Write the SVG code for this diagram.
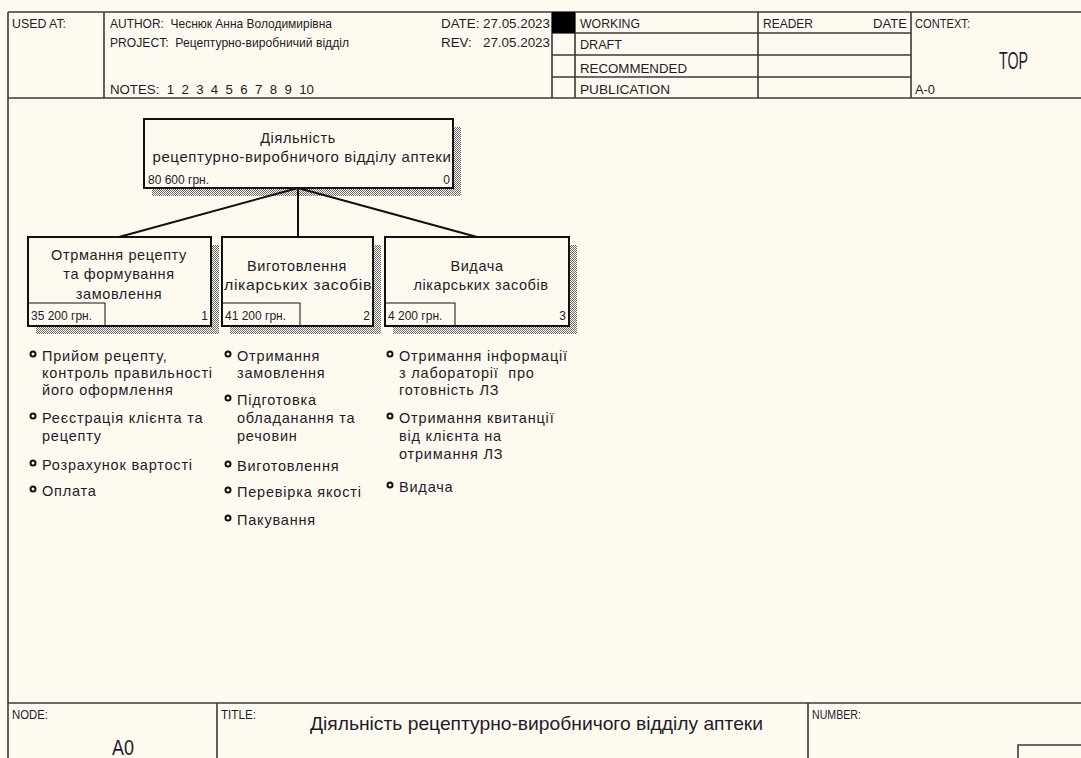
<svg xmlns="http://www.w3.org/2000/svg" width="1081" height="758" viewBox="0 0 1081 758">
<defs>
<pattern id="hatch" width="2" height="2" patternUnits="userSpaceOnUse">
<rect width="2" height="2" fill="#fffaf0"/>
<rect width="1" height="1" fill="#6e6e6e"/>
<rect x="1" y="1" width="1" height="1" fill="#6e6e6e"/>
</pattern>
<style>
.frame{fill:none;stroke:#3a3a3a;stroke-width:1.6}
.hdr{font-family:"Liberation Sans",Arial,sans-serif;font-size:13px;fill:#1c1c2a;white-space:pre}
.big{font-family:"Liberation Sans",Arial,sans-serif;font-size:22px;fill:#1c1c2a}
.box{fill:#fffaf0;stroke:#111;stroke-width:2}
.cost{fill:none;stroke:#111;stroke-width:1}
.nt{font-family:"Liberation Sans",Arial,sans-serif;font-size:14.5px;letter-spacing:0.6px;fill:#1c1c2a;text-anchor:middle}
.sm{font-family:"Liberation Sans",Arial,sans-serif;font-size:12px;fill:#1c1c2a}
.bl{font-family:"Liberation Sans",Arial,sans-serif;font-size:14.5px;letter-spacing:0.8px;fill:#1c1c2a;white-space:pre}
.dot{fill:none;stroke:#111;stroke-width:2}
.conn{stroke:#111;stroke-width:2;fill:none}
</style>
</defs>
<rect width="1081" height="758" fill="#fffaf0"/>
<g id="header">
<line class="frame" x1="8" y1="12" x2="1081" y2="12"/>
<line class="frame" x1="8" y1="98" x2="1081" y2="98"/>
<line class="frame" x1="8" y1="12" x2="8" y2="758"/>
<line class="frame" x1="104" y1="12" x2="104" y2="98"/>
<line class="frame" x1="552" y1="12" x2="552" y2="98"/>
<line class="frame" x1="575" y1="12" x2="575" y2="98"/>
<line class="frame" x1="758" y1="12" x2="758" y2="98"/>
<line class="frame" x1="911" y1="12" x2="911" y2="98"/>
<line class="frame" x1="552" y1="33" x2="911" y2="33"/>
<line class="frame" x1="552" y1="55" x2="911" y2="55"/>
<line class="frame" x1="552" y1="77" x2="911" y2="77"/>
<rect x="552" y="12" width="23" height="21" fill="#000"/>
<text class="hdr" x="12" y="28" textLength="54" lengthAdjust="spacingAndGlyphs">USED AT:</text>
<text class="hdr" x="110" y="28" textLength="222" lengthAdjust="spacingAndGlyphs">AUTHOR:  Чеснюк Анна Володимирівна</text>
<text class="hdr" x="110" y="47" textLength="239" lengthAdjust="spacingAndGlyphs">PROJECT:  Рецептурно-виробничий відділ</text>
<text class="hdr" x="110" y="94" textLength="204" lengthAdjust="spacingAndGlyphs">NOTES:  1  2  3  4  5  6  7  8  9  10</text>
<text class="hdr" x="441" y="28" textLength="109" lengthAdjust="spacingAndGlyphs">DATE: 27.05.2023</text>
<text class="hdr" x="441" y="47" textLength="109" lengthAdjust="spacingAndGlyphs">REV:   27.05.2023</text>
<text class="hdr" x="580" y="28" textLength="60" lengthAdjust="spacingAndGlyphs">WORKING</text>
<text class="hdr" x="580" y="49" textLength="42" lengthAdjust="spacingAndGlyphs">DRAFT</text>
<text class="hdr" x="580" y="73" textLength="107" lengthAdjust="spacingAndGlyphs">RECOMMENDED</text>
<text class="hdr" x="580" y="94" textLength="90" lengthAdjust="spacingAndGlyphs">PUBLICATION</text>
<text class="hdr" x="763" y="28" textLength="50" lengthAdjust="spacingAndGlyphs">READER</text>
<text class="hdr" x="907" y="28" text-anchor="end" textLength="34" lengthAdjust="spacingAndGlyphs">DATE</text>
<text class="hdr" x="915" y="28" textLength="55" lengthAdjust="spacingAndGlyphs">CONTEXT:</text>
<text class="big" x="999" y="69" style="font-size:24px" textLength="29" lengthAdjust="spacingAndGlyphs">TOP</text>
<text class="hdr" x="915" y="94" textLength="20" lengthAdjust="spacingAndGlyphs">A-0</text>
</g>
<g id="footer">
<line class="frame" x1="8" y1="703" x2="1081" y2="703"/>
<line class="frame" x1="217" y1="703" x2="217" y2="758"/>
<line class="frame" x1="808" y1="703" x2="808" y2="758"/>
<polyline class="frame" points="1018,758 1018,745 1081,745"/>
<text class="hdr" x="12" y="719" textLength="36" lengthAdjust="spacingAndGlyphs">NODE:</text>
<text class="big" x="112" y="755" textLength="22" lengthAdjust="spacingAndGlyphs">A0</text>
<text class="hdr" x="221" y="719" textLength="35" lengthAdjust="spacingAndGlyphs">TITLE:</text>
<text class="big" x="310" y="730" style="font-size:19px" textLength="453" lengthAdjust="spacingAndGlyphs">Діяльність рецептурно-виробничого відділу аптеки</text>
<text class="hdr" x="812" y="719" textLength="49" lengthAdjust="spacingAndGlyphs">NUMBER:</text>
</g>
<g id="node-A0">
<rect x="152" y="127" width="309" height="69" fill="url(#hatch)"/>
<rect class="box" x="144" y="119" width="309" height="69"/>
<text class="nt" x="298" y="143">Діяльність</text>
<text class="nt" x="302" y="162" textLength="299" lengthAdjust="spacingAndGlyphs">рецептурно-виробничого відділу аптеки</text>
<text class="sm" x="148" y="184">80 600 грн.</text>
<text class="sm" x="450" y="184" text-anchor="end">0</text>
</g>
<g id="node-A1">
<rect x="36" y="245" width="183" height="89" fill="url(#hatch)"/>
<rect class="box" x="28" y="237" width="183" height="89"/>
<rect class="cost" x="28" y="303" width="77" height="23"/>
<text class="nt" x="119" y="260">Отрмання рецепту</text>
<text class="nt" x="119" y="279">та формування</text>
<text class="nt" x="119" y="299">замовлення</text>
<text class="sm" x="31" y="320">35 200 грн.</text>
<text class="sm" x="208" y="320" text-anchor="end">1</text>
</g>
<g id="node-A2">
<rect x="230" y="245" width="151" height="89" fill="url(#hatch)"/>
<rect class="box" x="222" y="237" width="151" height="89"/>
<rect class="cost" x="222" y="303" width="78" height="23"/>
<text class="nt" x="297" y="271">Виготовлення</text>
<text class="nt" x="298" y="290" textLength="148" lengthAdjust="spacingAndGlyphs">лікарських засобів</text>
<text class="sm" x="225" y="320">41 200 грн.</text>
<text class="sm" x="370" y="320" text-anchor="end">2</text>
</g>
<g id="node-A3">
<rect x="393" y="245" width="184" height="89" fill="url(#hatch)"/>
<rect class="box" x="385" y="237" width="184" height="89"/>
<rect class="cost" x="385" y="303" width="70" height="23"/>
<text class="nt" x="477" y="271">Видача</text>
<text class="nt" x="481" y="290">лікарських засобів</text>
<text class="sm" x="388" y="320">4 200 грн.</text>
<text class="sm" x="566" y="320" text-anchor="end">3</text>
</g>
<g id="connectors">
<line class="conn" x1="298" y1="188" x2="119" y2="237"/>
<line class="conn" x1="298" y1="188" x2="298" y2="237"/>
<line class="conn" x1="298" y1="188" x2="477" y2="237"/>
</g>
<g id="list-A1">
<circle class="dot" cx="33" cy="354" r="2.5"/>
<text class="bl" x="42" y="361">Прийом рецепту,</text>
<text class="bl" x="42" y="378">контроль правильності</text>
<text class="bl" x="42" y="395">його оформлення</text>
<circle class="dot" cx="33" cy="416" r="2.5"/>
<text class="bl" x="42" y="423">Реєстрація клієнта та</text>
<text class="bl" x="42" y="441">рецепту</text>
<circle class="dot" cx="33" cy="463" r="2.5"/>
<text class="bl" x="42" y="470">Розрахунок вартості</text>
<circle class="dot" cx="33" cy="489" r="2.5"/>
<text class="bl" x="42" y="496">Оплата</text>
</g>
<g id="list-A2">
<circle class="dot" cx="228" cy="354" r="2.5"/>
<text class="bl" x="237" y="361">Отримання</text>
<text class="bl" x="237" y="378">замовлення</text>
<circle class="dot" cx="228" cy="398" r="2.5"/>
<text class="bl" x="237" y="405">Підготовка</text>
<text class="bl" x="237" y="423">обладанання та</text>
<text class="bl" x="237" y="441">речовин</text>
<circle class="dot" cx="228" cy="464" r="2.5"/>
<text class="bl" x="237" y="471">Виготовлення</text>
<circle class="dot" cx="228" cy="490" r="2.5"/>
<text class="bl" x="237" y="497">Перевірка якості</text>
<circle class="dot" cx="228" cy="518" r="2.5"/>
<text class="bl" x="237" y="525">Пакування</text>
</g>
<g id="list-A3">
<circle class="dot" cx="390" cy="354" r="2.5"/>
<text class="bl" x="399" y="361">Отримання інформації</text>
<text class="bl" x="399" y="378">з лабораторії  про</text>
<text class="bl" x="399" y="395">готовність ЛЗ</text>
<circle class="dot" cx="390" cy="416" r="2.5"/>
<text class="bl" x="399" y="423">Отримання квитанції</text>
<text class="bl" x="399" y="441">від клієнта на</text>
<text class="bl" x="399" y="459">отримання ЛЗ</text>
<circle class="dot" cx="390" cy="485" r="2.5"/>
<text class="bl" x="399" y="492">Видача</text>
</g>
</svg>
